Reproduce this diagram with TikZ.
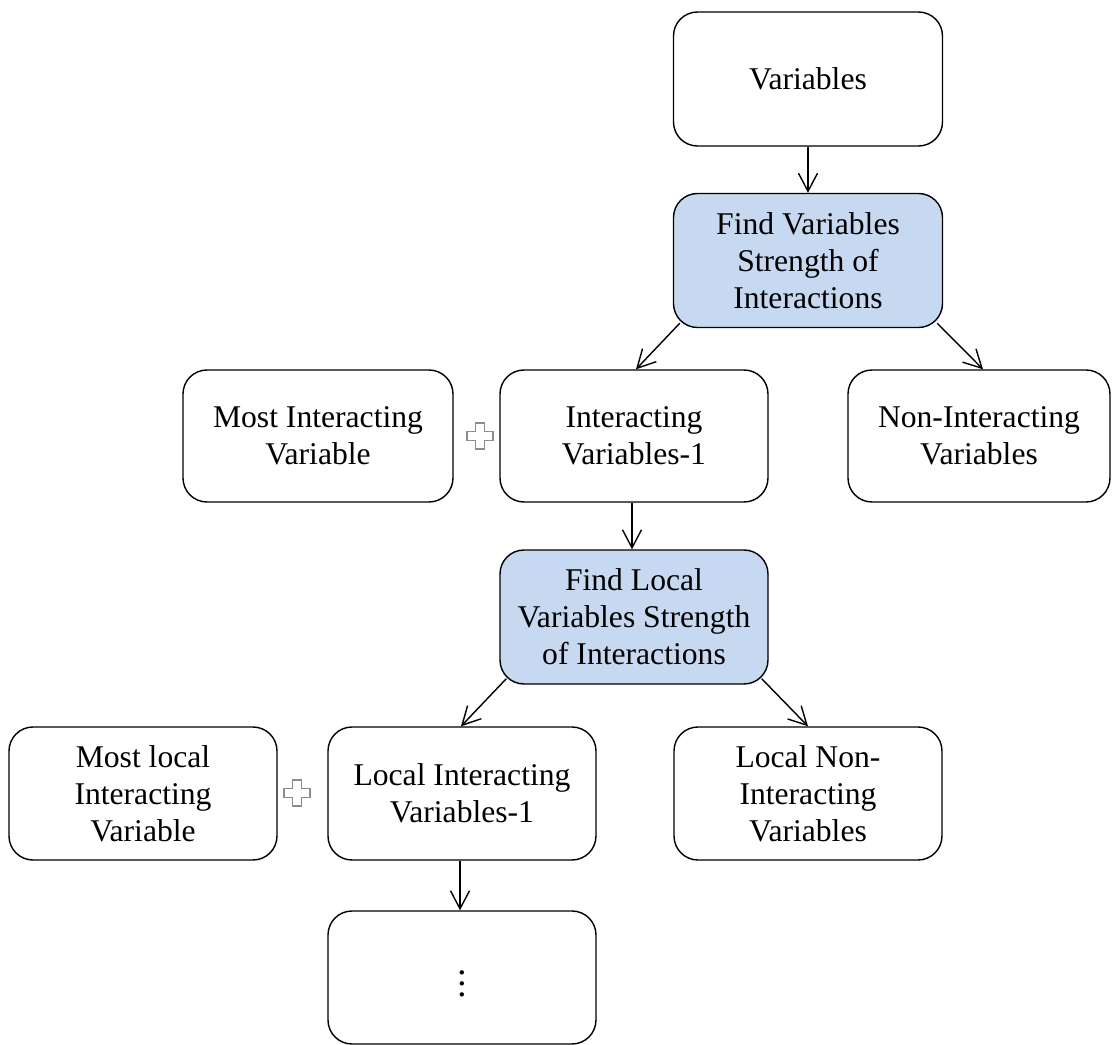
\documentclass[tikz,border=0pt]{standalone}
\usepackage{fontspec}
\usepackage{graphicx}
\setmainfont{Liberation Serif}
\usetikzlibrary{arrows.meta}
\definecolor{boxblue}{HTML}{C6D9F1}
\definecolor{plusgray}{HTML}{8C8C8C}
\tikzset{
  box/.style={draw=black, line width=0.8pt, rounded corners=0.48cm, fill=white,
    align=center, font=\fontsize{18}{21}\selectfont, inner sep=0pt},
  stepbox/.style={box, fill=boxblue},
  conn/.style={line width=0.8pt, -{Straight Barb[length=3.6mm,width=3.8mm,line width=0.8pt]}},
  plussign/.style={draw=plusgray, line width=0.6pt, fill=white}
}
\newcommand{\plusat}[2]{%
  \draw[plussign] (#1-0.26,#2-0.09) -- (#1-0.09,#2-0.09) -- (#1-0.09,#2-0.26) -- (#1+0.09,#2-0.26)
    -- (#1+0.09,#2-0.09) -- (#1+0.26,#2-0.09) -- (#1+0.26,#2+0.09) -- (#1+0.09,#2+0.09)
    -- (#1+0.09,#2+0.26) -- (#1-0.09,#2+0.26) -- (#1-0.09,#2+0.09) -- (#1-0.26,#2+0.09) -- cycle;}
\begin{document}
\begin{tikzpicture}
\useasboundingbox (0,0) rectangle (22.24,-20.9);
\node[box, minimum width=5.38cm, minimum height=2.68cm] (vars) at (16.16,-1.58) {Variables};
\node[stepbox, minimum width=5.38cm, minimum height=2.68cm] (find1) at (16.16,-5.21) {Find Variables\\Strength of\\Interactions};
\node[box, minimum width=5.4cm, minimum height=2.64cm] (most) at (6.36,-8.72) {Most Interacting\\Variable};
\node[box, minimum width=5.36cm, minimum height=2.64cm] (inter) at (12.68,-8.72) {Interacting\\Variables-1};
\node[box, minimum width=5.24cm, minimum height=2.64cm] (nonint) at (19.58,-8.72) {Non-Interacting\\Variables};
\node[stepbox, minimum width=5.36cm, minimum height=2.68cm] (find2) at (12.68,-12.34) {Find Local\\Variables Strength\\of Interactions};
\node[box, minimum width=5.36cm, minimum height=2.66cm] (mostlocal) at (2.86,-15.87) {Most local\\Interacting\\Variable};
\node[box, minimum width=5.36cm, minimum height=2.66cm] (localint) at (9.24,-15.87) {Local Interacting\\Variables-1};
\node[box, minimum width=5.36cm, minimum height=2.66cm] (localnon) at (16.16,-15.87) {Local Non-\\Interacting\\Variables};
\node[box, minimum width=5.36cm, minimum height=2.66cm, font=\fontsize{13}{14}\selectfont] (dots) at (9.24,-19.55) {\raisebox{0.1cm}{\scalebox{1.6}{$\vdots$}}};

\draw[conn] (vars.south) -- (find1.north);
\draw[conn] ([shift={(0.14,0.1)}]find1.south west) -- ([xshift=0.04cm]inter.north);
\draw[conn] ([shift={(-0.12,0.1)}]find1.south east) -- ([xshift=0.08cm]nonint.north);
\draw[conn] ([xshift=-0.04cm]inter.south) -- ([xshift=-0.04cm]find2.north);
\draw[conn] ([shift={(0.14,0.12)}]find2.south west) -- ([xshift=-0.02cm]localint.north);
\draw[conn] ([shift={(-0.14,0.12)}]find2.south east) -- (localnon.north);
\draw[conn] ([xshift=-0.04cm]localint.south) -- ([xshift=-0.04cm]dots.north);

\plusat{9.6}{-8.72}
\plusat{5.94}{-15.86}
\end{tikzpicture}
\end{document}
